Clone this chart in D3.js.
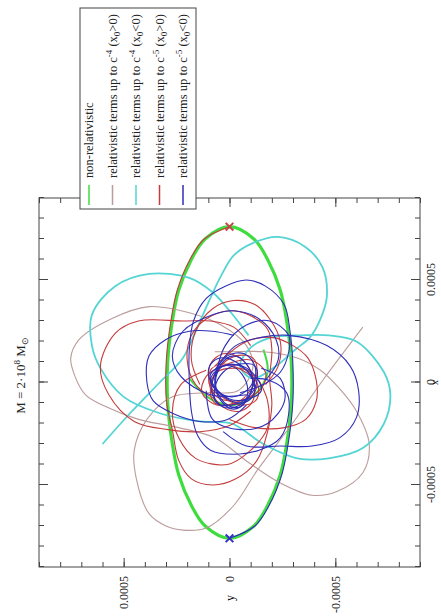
<!DOCTYPE html>
<html>
<head>
<meta charset="utf-8">
<script src="https://cdnjs.cloudflare.com/ajax/libs/d3/7.8.5/d3.min.js"></script>
<style>
body { margin: 0; background: #fff; }
</style>
</head>
<body>
<div id="orbits"></div>
<script>
// Orbits of the star, points are [x, y] in units of 1e-4 (axes are in plain units)
var UNIT = 1e-4

// non-relativistic orbit (closed ellipse) and its small inner arc
var nonRel = [[7.6,0],[7.0,-1.15],[6.0,-1.8],[4.5,-2.4],[3.0,-2.7],[1.0,-2.92],[-1.0,-2.92],[-3.0,-2.7],[-4.5,-2.4],[-6.0,-1.8],[-7.0,-1.15],[-7.6,0],[-7.0,1.15],[-6.0,1.8],[-4.5,2.4],[-3.0,2.7],[-1.0,2.92],[1.0,2.92],[3.0,2.7],[4.5,2.4],[6.0,1.8],[7.0,1.15]]
var nonRelInner = [[0.2,1.9],[-0.8,0.9],[-1.1,-0.2],[-0.6,-1.2],[0.5,-1.8],[1.6,-1.6]]

// relativistic up to c^-4, x0 > 0
var c4pos = [[1.5,0.7],[1.5,0.0],[1.5,-1.6],[1.2,-3.2],[0.6,-4.3],[-0.3,-5.2],[-1.4,-6.0],[-3.0,-6.6],[-4.4,-6.3],[-5.3,-5.1],[-5.5,-3.9],[-4.9,-2.4],[-3.9,-0.9],[-2.7,0.7],[-2.2,2.4],[-1.8,4.3],[-1.2,5.8],[-0.6,6.8],[0.3,7.3],[1.2,7.5],[2.1,7.1],[3.1,5.6],[3.7,3.8],[3.4,1.9],[2.8,0.4],[1.8,-0.8],[0.7,-1.1],[-0.4,-0.4],[-0.5,1.1],[-0.7,2.7],[-1.8,3.9],[-3.3,4.5],[-4.7,4.4],[-6.4,3.8],[-7.0,3.0],[-7.2,2.2],[-7.1,1.1],[-6.0,-0.2],[-4.3,-1.3],[-2.1,-2.9],[0.1,-4.4],[2.7,-6.3]]

// relativistic up to c^-4, x0 < 0
var c4neg = [[2.3,-0.9],[3.5,0.0],[4.4,0.8],[5.1,1.9],[5.3,3.8],[4.7,5.4],[3.3,6.5],[1.8,6.5],[0.7,6.1],[-0.7,5.0],[-1.5,3.3],[-1.9,1.4],[-2.0,-0.1],[-3.0,-1.6],[-3.7,-3.2],[-3.7,-4.7],[-3.2,-6.3],[-2.0,-7.3],[-0.6,-7.6],[0.5,-7.3],[2.0,-6.0],[2.3,-4.7],[2.3,-3.4],[2.2,-2.0],[1.7,-1.0],[0.8,-0.5],[0.2,-1.1],[0.8,-2.2],[1.6,-3.1],[2.2,-3.8],[3.1,-4.3],[4.2,-4.6],[5.6,-4.4],[6.6,-3.6],[7.1,-2.3],[6.8,-1.1],[6.2,-0.2],[5.2,0.4],[3.9,1.0],[2.5,1.6],[1.2,2.2],[0.0,3.3],[-1.5,4.7],[-3.0,6.0]]

// relativistic up to c^-5, x0 > 0 (open arcs, then the tight inner loops)
var c5pos1 = [[7.6,0],[7.0,1.2],[6.0,1.87],[4.5,2.47],[3.0,2.77],[1.0,2.99],[-1.0,2.97],[-2.3,2.7],[-3.8,2.4],[-4.7,1.8],[-5.0,0.8],[-4.7,-0.3],[-3.8,-1.3],[-2.4,-1.8],[-1.1,-2.0],[0.2,-1.9],[1.6,-2.0],[2.6,-1.8],[3.3,-0.9],[3.5,0.0],[3.1,1.1],[2.3,1.8],[1.1,2.0],[-0.1,1.6],[-0.8,0.7]]
var c5pos2 = [[1.8,-1.0],[2.7,-0.2],[3.0,0.9],[3.0,2.2],[3.0,4.3],[2.4,5.4],[0.8,6.1],[-0.6,5.7],[-1.9,4.5],[-2.3,2.9],[-2.4,1.4],[-2.1,0.0],[-1.4,-1.0]]
var c5pos3 = [[0.8,0.7],[2.0,-0.8],[2.2,-2.0],[1.8,-3.0],[1.2,-3.7],[0.1,-4.1],[-0.9,-4.1],[-1.8,-3.6],[-2.2,-2.6],[-2.2,-1.2],[-1.8,0.0]]
var c5pos4 = [[-0.1,1.4],[1.1,1.8],[2.5,1.6],[3.6,0.8],[4.0,-0.2],[3.8,-1.2],[3.1,-1.9],[2.0,-2.4],[0.8,-2.3],[-0.1,-1.7]]
var c5pos5 = [[0.6,1.1],[-0.1,2.3],[-1.4,2.7],[-2.7,2.4],[-3.7,1.6],[-4.0,0.1],[-3.4,-0.9],[-2.2,-1.8],[-0.9,-1.8],[0.1,-1.4]]
var c5posLoops = [
  [[1.4,0.3],[0.9,0.9],[-0.3,0.9],[-1.2,0.3],[-1.4,-0.5],[-0.9,-1.1],[0.3,-1.1],[1.2,-0.5]],
  [[0.6,0.9],[-0.2,0.9],[-0.8,0.2],[-1.1,-0.7],[-0.8,-1.3],[0.0,-1.3],[0.6,-0.6],[0.9,0.3]],
  [[1.2,-1.1],[1.3,-0.3],[0.7,0.5],[-0.3,0.9],[-1.0,0.7],[-1.1,-0.1],[-0.5,-0.9],[0.5,-1.3]],
  [[0.7,-0.2],[0.5,0.6],[-0.1,0.9],[-0.7,0.6],[-0.9,-0.2],[-0.7,-1.0],[-0.1,-1.3],[0.5,-1.0]],
  [[-0.5,1.3],[-1.1,0.6],[-0.9,-0.5],[-0.3,-1.5],[0.5,-1.7],[1.1,-1.0],[0.9,0.1],[0.3,1.1]]
]

// relativistic up to c^-5, x0 < 0
var c5neg1 = [[-7.6,0],[-7.0,-1.2],[-6.0,-1.87],[-4.5,-2.47],[-3.0,-2.77],[-1.0,-2.99],[1.0,-2.99],[2.5,-2.86],[3.8,-2.58],[4.7,-1.7],[5.0,-0.8],[4.7,0.2],[4.1,1.1],[3.0,1.7],[1.6,1.9],[0.1,1.9],[-1.4,1.8],[-2.6,1.5],[-3.3,0.9],[-3.5,-0.2],[-3.3,-1.4],[-2.7,-2.4],[-1.5,-2.8],[-0.5,-2.7],[0.1,-1.9],[0.2,-1.0]]
var c5neg2 = [[0.1,0.7],[1.8,0.2],[2.8,-0.8],[3.0,-1.9],[2.3,-2.8],[1.5,-2.8],[0.5,-2.4],[-0.1,-1.6],[-0.5,-0.5]]
var c5neg3 = [[0.6,0.7],[1.8,-0.3],[2.2,-1.5],[2.3,-2.8],[1.8,-4.6],[0.8,-5.7],[-0.4,-6.1],[-1.7,-6.0],[-2.7,-5.2],[-3.1,-3.9],[-3.1,-2.4],[-3.1,-0.8],[-2.4,0.3]]
var c5neg4 = [[2.3,-0.2],[2.5,0.8],[2.5,1.9],[2.1,3.0],[1.3,3.8],[0.0,3.9],[-0.9,3.6],[-1.5,2.7],[-1.9,1.4],[-1.8,0.1],[-1.1,-0.8]]
var c5neg5 = [[-0.6,-0.8],[-0.6,0.9],[0.3,2.3],[1.3,2.7],[2.5,2.2],[3.3,0.8],[3.5,-0.2],[3.1,-1.4],[2.1,-2.2],[1.1,-2.3],[0.1,-1.7]]
var c5neg6 = [[-0.4,1.1],[-1.8,0.8],[-2.3,-0.5],[-2.0,-1.8],[-0.9,-2.6],[0.2,-2.4],[0.7,-1.5]]
var c5negLoops = [
  [[1.3,-0.2],[0.9,0.4],[0.0,0.7],[-0.9,0.4],[-1.3,-0.2],[-0.9,-0.8],[0.0,-1.1],[0.9,-0.8]],
  [[1.0,0.8],[0.4,1.0],[-0.5,0.5],[-1.0,-0.4],[-0.8,-1.0],[-0.2,-1.2],[0.7,-0.7],[1.2,0.2]],
  [[0.8,-1.2],[0.9,-0.5],[0.5,0.3],[-0.3,0.7],[-1.0,0.6],[-1.1,-0.1],[-0.7,-0.9],[0.1,-1.3]],
  [[0.9,-0.1],[0.6,0.6],[0.1,0.9],[-0.4,0.6],[-0.7,-0.1],[-0.4,-0.8],[0.1,-1.1],[0.6,-0.8]],
  [[0.8,0.3],[0.4,0.6],[-0.4,0.6],[-1.1,0.1],[-1.2,-0.5],[-0.8,-0.8],[0.0,-0.8],[0.7,-0.3]],
  [[0.4,0.9],[-0.2,0.7],[-0.8,0.0],[-0.8,-0.9],[-0.4,-1.5],[0.2,-1.3],[0.8,-0.6],[0.8,0.3]],
  [[1.4,-0.7],[1.3,0.1],[0.4,0.7],[-0.6,0.8],[-1.2,0.3],[-1.1,-0.5],[-0.2,-1.1],[0.8,-1.2]]
]

// starting points (x0 > 0 and x0 < 0)
var startPoints = [[7.6,0],[-7.6,0]]

// axes
var majorTicks = [-0.0005, 0, 0.0005]
var tickLabels = ["-0.0005", "0", "0.0005"]

// legend
var legendNames = ["non-relativistic", "relativistic terms up to c", "relativistic terms up to c", "relativistic terms up to c", "relativistic terms up to c"]
var legendPowers = ["", "-4", "-4", "-5", "-5"]
var legendSigns = ["", ">", "<", ">", "<"]

var colNonRel = "#3fdc3f", colC4pos = "#bb9b9b", colC4neg = "#55d4d4", colC5pos = "#c43c3c", colC5neg = "#2e2eb8"
var legendColors = [colNonRel, colC4pos, colC4neg, colC5pos, colC5neg]
var serif = "'Liberation Serif', 'Times New Roman', serif"
var frameCol = "#444"

var svg = d3.select("#orbits")
    .append("svg")
    .attr("width", 441)
    .attr("height", 616)

svg.append("rect").attr("width", 441).attr("height", 616).attr("fill", "white")

// the figure is printed sideways: draw it upright, then turn it
var chart = svg.append("g")
    .attr("transform", "translate(0,616) rotate(-90)")

var x = d3.scaleLinear().domain([-0.0009, 0.0009]).range([49, 418])
var y = d3.scaleLinear().domain([-0.0009, 0.0009]).range([420, 39])
var minorTicks = x.ticks(18)

function styleAxis(g) {
    g.select(".domain").remove()
    g.attr("color", frameCol)
        .attr("font-family", serif)
        .attr("font-size", 12)
    g.selectAll("text").attr("fill", "#222")
}

// ticks on all four sides, pointing inward
chart.append("g").attr("transform", "translate(0,420)")
    .call(d3.axisBottom(x).tickValues(minorTicks).tickSize(-5).tickFormat(""))
    .call(styleAxis)
chart.append("g").attr("transform", "translate(0,420)")
    .call(d3.axisBottom(x).tickValues(majorTicks).tickSize(-9).tickPadding(6).tickFormat(function (d, i) { return tickLabels[i] }))
    .call(styleAxis)
chart.append("g").attr("transform", "translate(0,39)")
    .call(d3.axisTop(x).tickValues(minorTicks).tickSize(-5).tickFormat(""))
    .call(styleAxis)
chart.append("g").attr("transform", "translate(0,39)")
    .call(d3.axisTop(x).tickValues(majorTicks).tickSize(-9).tickFormat(""))
    .call(styleAxis)
chart.append("g").attr("transform", "translate(49,0)")
    .call(d3.axisLeft(y).tickValues(minorTicks).tickSize(-5).tickFormat(""))
    .call(styleAxis)
chart.append("g").attr("transform", "translate(49,0)")
    .call(d3.axisLeft(y).tickValues(majorTicks).tickSize(-9).tickPadding(9).tickFormat(function (d, i) { return tickLabels[i] }))
    .call(styleAxis)
chart.append("g").attr("transform", "translate(418,0)")
    .call(d3.axisRight(y).tickValues(minorTicks).tickSize(-5).tickFormat(""))
    .call(styleAxis)
chart.append("g").attr("transform", "translate(418,0)")
    .call(d3.axisRight(y).tickValues(majorTicks).tickSize(-9).tickFormat(""))
    .call(styleAxis)

chart.append("rect")
    .attr("x", x(-0.0009)).attr("y", y(0.0009))
    .attr("width", x(0.0009) - x(-0.0009)).attr("height", y(-0.0009) - y(0.0009))
    .attr("fill", "none").attr("stroke", frameCol).attr("stroke-width", 1)

// axis titles and the mass label
chart.append("text").attr("x", x(0)).attr("y", 438).attr("text-anchor", "middle")
    .attr("font-family", serif).attr("font-size", 10).text("x")
chart.append("text").attr("x", 18).attr("y", y(0) + 4).attr("text-anchor", "middle")
    .attr("font-family", serif).attr("font-size", 12).text("y")

var title = chart.append("text").attr("x", x(0) + 7).attr("y", 25).attr("text-anchor", "middle")
    .attr("font-family", serif).attr("font-size", 13).attr("fill", "#222")
title.append("tspan").text("M = 2\u00b710")
title.append("tspan").attr("dy", -5).attr("font-size", 9).text("8")
title.append("tspan").attr("dy", 5).text(" M")
title.append("tspan").attr("dy", 3).attr("font-size", 9).text("\u2299")

// curves
var orbitLine = d3.line()
    .x(function (d) { return x(d[0] * UNIT) })
    .y(function (d) { return y(d[1] * UNIT) })
    .curve(d3.curveCatmullRom)
var orbitLoop = d3.line()
    .x(function (d) { return x(d[0] * UNIT) })
    .y(function (d) { return y(d[1] * UNIT) })
    .curve(d3.curveCatmullRomClosed)

var curves = chart.append("g").attr("fill", "none")

function drawPaths(list, gen, color, width) {
    curves.selectAll(null)
        .data(list)
        .enter()
        .append("path")
        .attr("d", gen)
        .attr("stroke", color)
        .attr("stroke-width", width)
        .attr("stroke-linejoin", "round")
}

drawPaths([nonRelInner], orbitLine, colNonRel, 2)
drawPaths([nonRel], orbitLoop, colNonRel, 3.2)
drawPaths([c4pos], orbitLine, colC4pos, 1.1)
drawPaths([c4neg], orbitLine, colC4neg, 1.8)
drawPaths([c5pos1, c5pos2, c5pos3, c5pos4, c5pos5], orbitLine, colC5pos, 1.1)
drawPaths(c5posLoops, orbitLoop, colC5pos, 1.1)
drawPaths([c5neg1, c5neg2, c5neg3, c5neg4, c5neg5, c5neg6], orbitLine, colC5neg, 1.1)
drawPaths(c5negLoops, orbitLoop, colC5neg, 1.1)

// start markers
chart.selectAll("startMarks")
    .data(startPoints)
    .enter()
    .append("path")
    .attr("d", d3.symbol(d3.symbolX, 40))
    .attr("transform", function (d) { return "translate(" + x(d[0] * UNIT) + "," + y(d[1] * UNIT) + ")" })
    .attr("fill", "none")
    .attr("stroke", function (d, i) { return i == 0 ? "#c04848" : "#3030c8" })
    .attr("stroke-width", 2)

// legend, sitting over the top of the frame
var legend = chart.append("g").attr("font-family", serif).attr("font-size", 12.5).attr("fill", "#222")
legend.append("rect")
    .attr("x", 407).attr("y", 80).attr("width", 201).attr("height", 116)
    .attr("fill", "white").attr("stroke", frameCol).attr("stroke-width", 1)

legendNames.forEach(function (name, i) {
    var base = 93 + i * 23.5
    legend.append("line")
        .attr("x1", 411).attr("x2", 431).attr("y1", base - 4).attr("y2", base - 4)
        .attr("stroke", legendColors[i]).attr("stroke-width", 1.5)
    var t = legend.append("text").attr("x", 438).attr("y", base)
    t.append("tspan").text(name)
    if (legendPowers[i]) {
        t.append("tspan").attr("dy", -5).attr("font-size", 9).text(legendPowers[i])
        t.append("tspan").attr("dy", 5).text(" (x")
        t.append("tspan").attr("dy", 3).attr("font-size", 9).text("0")
        t.append("tspan").attr("dy", -3).text(legendSigns[i] + "0)")
    }
})
</script>
</body>
</html>
